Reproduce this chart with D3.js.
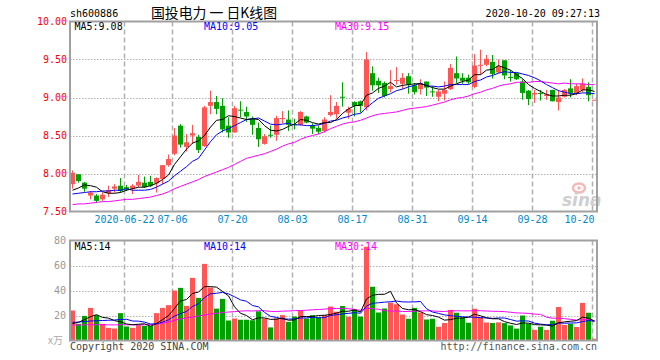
<!DOCTYPE html>
<html><head><meta charset="utf-8">
<script src="https://cdn.jsdelivr.net/npm/d3@7"></script>
<style>html,body{margin:0;padding:0;background:#fff;} svg{display:block;}</style>
</head><body><div id="chart"></div>
<script>
const dates = ["06-09","06-10","06-11","06-12","06-15","06-16","06-17","06-18","06-19","06-22","06-23","06-24","06-29","06-30",
"07-01","07-02","07-03","07-06","07-07","07-08","07-09","07-10","07-13","07-14","07-15","07-16","07-17","07-20","07-21","07-22","07-23","07-24","07-27","07-28","07-29","07-30","07-31",
"08-03","08-04","08-05","08-06","08-07","08-10","08-11","08-12","08-13","08-14","08-17","08-18","08-19","08-20","08-21","08-24","08-25","08-26","08-27","08-28","08-31",
"09-01","09-02","09-03","09-04","09-07","09-08","09-09","09-10","09-11","09-14","09-15","09-16","09-17","09-18","09-21","09-22","09-23","09-24","09-25","09-28","09-29","09-30",
"10-09","10-12","10-13","10-14","10-15","10-16","10-19","10-20"];
const opens = [7.86,7.99,7.88,7.71,7.71,7.66,7.74,7.80,7.84,7.82,7.80,7.84,7.88,7.89,7.87,7.93,8.11,8.26,8.63,8.35,8.50,8.48,8.36,8.89,8.94,8.89,8.63,8.54,8.84,8.81,8.72,8.60,8.39,8.51,8.51,8.72,8.71,8.65,8.64,8.75,8.63,8.60,8.56,8.77,8.78,9.01,8.80,8.94,8.95,8.87,9.32,9.22,9.19,9.11,9.22,9.18,9.28,9.16,9.11,9.21,9.08,9.01,9.05,9.11,9.32,9.26,9.26,9.14,9.42,9.43,9.47,9.33,9.49,9.27,9.32,9.21,9.09,9.04,9.06,9.02,9.10,8.94,9.01,9.12,9.06,9.10,9.14,8.97];
const highs = [8.04,7.99,7.89,7.77,7.73,7.75,7.84,7.86,7.94,7.85,7.86,7.98,7.96,7.97,7.95,8.11,8.25,8.60,8.65,8.52,8.64,8.51,8.89,9.09,9.02,8.99,8.74,8.89,8.95,8.88,8.75,8.67,8.52,8.63,8.76,8.82,8.83,8.72,8.82,8.76,8.66,8.63,8.74,9.03,8.94,9.20,8.88,8.95,8.96,9.60,9.41,9.26,9.21,9.36,9.40,9.32,9.32,9.19,9.24,9.21,9.15,9.10,9.21,9.44,9.54,9.32,9.30,9.57,9.63,9.56,9.56,9.50,9.49,9.36,9.33,9.24,9.10,9.10,9.10,9.10,9.10,9.10,9.11,9.24,9.18,9.25,9.20,8.97];
const lows = [7.80,7.88,7.76,7.66,7.61,7.64,7.69,7.75,7.75,7.77,7.73,7.82,7.81,7.82,7.75,7.86,8.09,8.24,8.34,8.29,8.39,8.27,8.35,8.78,8.78,8.54,8.47,8.54,8.74,8.68,8.51,8.35,8.38,8.47,8.43,8.66,8.56,8.58,8.63,8.66,8.52,8.52,8.54,8.75,8.72,8.88,8.72,8.75,8.80,8.83,9.09,9.06,9.00,9.07,9.17,9.11,9.05,9.04,9.04,9.02,9.01,8.95,8.96,9.10,9.19,9.18,9.18,9.12,9.30,9.41,9.25,9.32,9.24,9.21,9.23,8.97,8.90,8.93,8.96,8.97,8.95,8.83,9.00,9.00,9.03,9.07,8.95,8.97];
const closes = [8.01,7.90,7.80,7.75,7.64,7.72,7.78,7.83,7.77,7.79,7.84,7.89,7.82,7.84,7.94,8.11,8.19,8.50,8.38,8.41,8.53,8.31,8.87,8.94,8.85,8.58,8.54,8.86,8.83,8.75,8.64,8.45,8.49,8.50,8.73,8.73,8.64,8.64,8.81,8.67,8.59,8.55,8.71,8.81,8.89,9.00,8.85,8.89,8.89,9.50,9.16,9.16,9.02,9.15,9.23,9.26,9.17,9.07,9.19,9.13,9.07,9.08,9.10,9.39,9.25,9.22,9.20,9.42,9.43,9.51,9.31,9.41,9.29,9.26,9.24,9.06,8.98,9.06,9.05,9.04,8.95,9.00,9.10,9.06,9.15,9.18,9.03,8.97];
const volumes = [24.0,13.3,19.7,26.1,20.3,13.3,10.1,9.6,21.9,11.2,10.1,12.3,11.7,11.7,21.9,26.1,28.3,40.0,42.1,27.7,50.1,34.1,61.3,42.4,25.5,33.3,16.0,17.6,16.6,16.6,16.2,23.4,17.6,10.5,17.6,20.3,14.9,19.2,24.0,17.6,20.3,18.7,20.3,27.2,23.0,27.6,19.0,25.1,19.1,75.0,43.0,22.4,25.6,30.3,29.0,20.8,17.4,26.1,22.4,16.8,17.4,11.0,14.0,24.5,22.2,18.5,14.2,25.4,18.8,14.4,14.0,14.5,13.9,12.1,9.5,20.0,13.5,8.5,11.0,8.5,15.8,26.8,12.5,13.4,10.8,30.1,22.2,1.4];
const ma5 = [7.78,7.81,7.85,7.84,7.82,7.76,7.74,7.74,7.75,7.78,7.80,7.82,7.82,7.84,7.87,7.92,7.98,8.12,8.22,8.32,8.40,8.43,8.50,8.61,8.70,8.71,8.76,8.75,8.73,8.71,8.72,8.71,8.63,8.57,8.56,8.58,8.62,8.65,8.71,8.70,8.67,8.65,8.67,8.67,8.71,8.79,8.85,8.89,8.90,9.03,9.06,9.12,9.15,9.20,9.14,9.16,9.17,9.18,9.18,9.16,9.13,9.11,9.11,9.15,9.18,9.21,9.23,9.30,9.30,9.36,9.37,9.42,9.39,9.36,9.30,9.25,9.17,9.12,9.08,9.04,9.02,9.02,9.03,9.03,9.05,9.10,9.10,9.08];
const ma10 = [7.73,7.74,7.75,7.76,7.76,7.77,7.77,7.78,7.78,7.80,7.78,7.78,7.78,7.79,7.82,7.86,7.90,7.97,8.03,8.09,8.16,8.20,8.31,8.42,8.51,8.56,8.59,8.63,8.67,8.71,8.72,8.73,8.69,8.65,8.64,8.65,8.66,8.64,8.64,8.63,8.63,8.64,8.66,8.69,8.70,8.73,8.75,8.78,8.79,8.87,8.93,8.99,9.02,9.05,9.09,9.11,9.14,9.16,9.19,9.15,9.15,9.14,9.15,9.17,9.17,9.17,9.17,9.21,9.23,9.27,9.29,9.32,9.34,9.33,9.33,9.31,9.29,9.26,9.22,9.17,9.13,9.09,9.07,9.05,9.05,9.06,9.06,9.05];
const ma30 = [7.59,7.60,7.60,7.61,7.62,7.63,7.63,7.64,7.65,7.66,7.66,7.67,7.68,7.69,7.71,7.73,7.76,7.80,7.83,7.86,7.89,7.92,7.96,7.99,8.02,8.05,8.08,8.12,8.16,8.20,8.22,8.24,8.26,8.29,8.32,8.36,8.39,8.41,8.45,8.48,8.50,8.52,8.55,8.59,8.62,8.65,8.67,8.68,8.70,8.73,8.76,8.78,8.79,8.80,8.81,8.83,8.85,8.86,8.87,8.88,8.90,8.92,8.94,8.97,8.99,9.00,9.02,9.05,9.07,9.10,9.12,9.15,9.17,9.18,9.20,9.20,9.20,9.21,9.21,9.20,9.19,9.18,9.19,9.18,9.18,9.18,9.17,9.17];
const vma5 = [13.5,14.5,16.8,19.0,20.7,18.5,17.9,15.9,15.0,13.2,12.6,13.0,13.4,11.4,13.5,16.7,19.9,25.6,31.7,32.8,37.6,38.8,43.1,43.1,42.7,39.3,35.7,27.0,21.8,20.0,16.6,18.1,18.1,16.9,17.1,17.9,16.2,16.5,19.2,19.2,19.2,20.0,20.2,20.8,21.9,23.4,23.4,24.4,22.8,33.2,36.2,36.9,37.0,39.3,30.1,25.6,24.6,24.7,23.1,20.7,20.0,18.7,16.3,16.7,17.8,18.0,18.7,21.0,19.8,18.2,17.4,17.4,15.1,13.8,12.8,14.0,13.9,12.7,12.5,12.3,11.5,14.1,14.9,15.4,15.9,18.7,17.8,15.6];
const vma10 = [14.5,14.8,15.2,15.6,15.8,16.0,16.2,16.4,16.8,17.0,15.6,15.5,14.7,13.2,13.4,14.7,16.5,19.5,21.5,23.2,27.2,29.4,34.3,37.4,37.8,38.5,37.3,35.0,32.5,31.4,28.0,26.9,22.5,19.3,18.5,17.2,17.1,17.3,18.0,18.1,18.5,18.1,18.3,20.0,20.6,21.3,21.7,22.3,21.8,27.5,29.8,30.2,30.7,31.0,31.6,30.9,30.8,30.9,31.2,25.4,22.8,21.7,20.5,19.9,19.3,19.0,18.7,18.6,18.3,18.0,17.7,18.0,18.0,16.8,15.5,15.7,15.6,13.9,13.1,12.6,12.7,14.0,13.8,14.0,14.1,15.1,16.0,15.3];
const vma30 = [12.4,12.4,12.5,12.6,12.6,12.6,12.5,12.5,12.6,12.6,12.5,12.5,12.6,12.7,13.0,13.9,14.8,16.2,17.3,18.0,18.8,19.6,20.4,21.2,21.8,22.4,22.8,23.1,23.5,23.8,23.6,23.9,23.8,23.3,23.2,23.5,23.6,23.9,24.0,24.2,24.6,24.8,25.1,25.6,25.6,25.7,25.4,24.9,24.1,25.7,25.4,25.0,23.9,23.5,23.6,23.2,23.2,23.5,23.7,23.7,23.7,23.3,23.2,23.7,23.8,23.7,23.7,23.9,23.8,23.6,23.4,23.3,23.1,22.6,22.1,21.9,21.7,21.1,20.9,18.7,17.8,17.9,17.5,16.9,16.3,16.6,16.8,15.9];
const priceTicks = [7.5, 8.0, 8.5, 9.0, 9.5, 10.0];
const volTicks = [20, 40, 60, 80];
const tickDates = ["06-22","07-06","07-20","08-03","08-17","08-31","09-14","09-28","10-20"];
const tickLabels = ["2020-06-22","07-06","07-20","08-03","08-17","08-31","09-14","09-28","10-20"];

const RED = "#ff5555", GREEN = "#00a000", GRID = "#b0b0b0", FRAME = "#a0a0a0";
const mono = "'DejaVu Sans Mono', monospace";
const L = 70, R = 597;

const svg = d3.select("#chart").append("svg").attr("width", 660).attr("height", 360)
  .style("font-family", mono);

const x = d3.scalePoint().domain(dates).range([72, 594]);
const xg = d3.scalePoint().domain(dates).range([70, 592]);
const yP = d3.scaleLinear().domain([7.5, 10]).range([211.5, 21.5]);
const yV = d3.scaleLinear().domain([0, 80]).range([340.5, 240.5]);
const idx = d3.range(dates.length);
const col = i => closes[i] >= opens[i] ? RED : GREEN;

// grid lines
function hgrid(scale, ticks) {
  svg.append("g").selectAll("line").data(ticks).join("line")
    .attr("x1", L).attr("x2", R)
    .attr("y1", d => Math.round(scale(d)) + 0.5).attr("y2", d => Math.round(scale(d)) + 0.5)
    .attr("stroke", GRID).attr("stroke-width", 1).attr("stroke-dasharray", "1.5,1.5");
}
hgrid(yP, [8.0, 8.5, 9.0, 9.5]);
hgrid(yV, [20, 40, 60]);
function vgrid(y0, y1) {
  svg.append("g").selectAll("line").data(tickDates).join("line")
    .attr("x1", d => xg(d) + 0.5).attr("x2", d => xg(d) + 0.5)
    .attr("y1", y0).attr("y2", y1)
    .attr("stroke", GRID).attr("stroke-width", 1.5).attr("stroke-dasharray", "5,3");
}
vgrid(yP(10), yP(7.5));
vgrid(yV(80), yV(0));

// watermark
const wm = svg.append("g");
wm.append("ellipse").attr("cx", 579).attr("cy", 188).attr("rx", 6).attr("ry", 4.5)
  .attr("fill", "none").attr("stroke", "#f3b8b8").attr("stroke-width", 2.5);
wm.append("circle").attr("cx", 579).attr("cy", 188).attr("r", 1.8).attr("fill", "#f3b8b8");
wm.append("text").attr("x", 562).attr("y", 206).text("sina")
  .attr("font-family", "'DejaVu Sans', sans-serif").attr("font-style", "italic").attr("font-weight", "bold")
  .attr("font-size", 17).attr("fill", "#cfcfcf");

// candles
const cg = svg.append("g");
cg.selectAll("line").data(idx).join("line")
  .attr("x1", i => x(dates[i]) + 0.5).attr("x2", i => x(dates[i]) + 0.5)
  .attr("y1", i => yP(highs[i])).attr("y2", i => yP(lows[i]))
  .attr("stroke", col).attr("stroke-width", 1);
cg.selectAll("rect").data(idx).join("rect")
  .attr("x", i => x(dates[i]) - 2).attr("width", 5)
  .attr("y", i => yP(Math.max(opens[i], closes[i])))
  .attr("height", i => Math.max(1, Math.abs(yP(opens[i]) - yP(closes[i]))))
  .attr("fill", col);

// volume bars
svg.append("g").selectAll("rect").data(idx).join("rect")
  .attr("x", i => x(dates[i]) - 2).attr("width", 5)
  .attr("y", i => yV(volumes[i])).attr("height", i => yV(0) - yV(volumes[i]))
  .attr("fill", col);

// MA lines
function maLine(arr, scale, color) {
  svg.append("path").datum(idx)
    .attr("d", d3.line().x(i => x(dates[i]) + 0.5).y(i => scale(arr[i])))
    .attr("fill", "none").attr("stroke", color).attr("stroke-width", 1);
}
maLine(ma30, yP, "#ff00ff");
maLine(ma10, yP, "#0000ff");
maLine(ma5, yP, "#000000");
maLine(vma30, yV, "#ff00ff");
maLine(vma10, yV, "#0000ff");
maLine(vma5, yV, "#000000");

// frames
svg.append("rect").attr("x", L).attr("y", 21.5).attr("width", R - L).attr("height", 190)
  .attr("fill", "none").attr("stroke", FRAME).attr("stroke-width", 2);
svg.append("rect").attr("x", L).attr("y", 240.5).attr("width", R - L).attr("height", 100)
  .attr("fill", "none").attr("stroke", FRAME).attr("stroke-width", 2);

// y axes
const ay = svg.append("g").attr("transform", "translate(67,0)")
  .call(d3.axisLeft(yP).tickValues(priceTicks).tickFormat(d3.format(".2f")).tickSize(0).tickPadding(0));
ay.select(".domain").remove();
ay.selectAll("text").attr("fill", "#ff0000").attr("font-family", mono).attr("font-size", 10);

const av = svg.append("g").attr("transform", "translate(66,0)")
  .call(d3.axisLeft(yV).tickValues(volTicks).tickSize(0).tickPadding(0));
av.select(".domain").remove();
av.selectAll("text").attr("fill", "#999").attr("font-family", mono).attr("font-size", 10);

svg.append("text").attr("x", 63).attr("y", 344).attr("text-anchor", "end")
  .attr("font-size", 10).attr("fill", "#aaa").attr("font-family", "'Noto Sans CJK SC', sans-serif").text("x万");

// x axis labels
const ax = svg.append("g").attr("transform", "translate(0,216)")
  .call(d3.axisBottom(xg).tickValues(tickDates).tickFormat((d, i) => tickLabels[i]).tickSize(0).tickPadding(0));
ax.select(".domain").remove();
ax.selectAll("text").attr("fill", "#0088cc").attr("font-family", mono).attr("font-size", 10);
ax.selectAll("text").filter(d => d === "10-20").attr("text-anchor", "end").attr("x", 2);

// legends
function legend(y, items) {
  items.forEach(([tx, px, c]) => svg.append("text").attr("x", px).attr("y", y)
    .attr("font-size", 10).attr("fill", c).text(tx));
}
legend(30, [["MA5:9.08", 74.5, "#000"], ["MA10:9.05", 204, "#0000ff"], ["MA30:9.15", 335, "#ff00ff"]]);
legend(250, [["MA5:14", 74.5, "#000"], ["MA10:14", 204, "#0000ff"], ["MA30:14", 335, "#ff00ff"]]);

// header
svg.append("text").attr("x", 70).attr("y", 17).attr("font-size", 10).attr("fill", "#000").text("sh600886");
svg.append("text").attr("x", 151).attr("y", 18).attr("font-size", 14).attr("fill", "#000")
  .attr("font-family", "'Noto Sans CJK SC', sans-serif")
  .attr("textLength", 126).attr("lengthAdjust", "spacingAndGlyphs").text("国投电力 一 日K线图");
svg.append("text").attr("x", 600).attr("y", 17).attr("text-anchor", "end").attr("font-size", 10)
  .attr("fill", "#000").text("2020-10-20 09:27:13");

// footer
svg.append("text").attr("x", 70).attr("y", 350).attr("font-size", 10).attr("fill", "#444").text("Copyright 2020 SINA.COM");
svg.append("text").attr("x", 597).attr("y", 350).attr("text-anchor", "end").attr("font-size", 10)
  .attr("fill", "#555").text("http://finance.sina.com.cn");
</script></body></html>
